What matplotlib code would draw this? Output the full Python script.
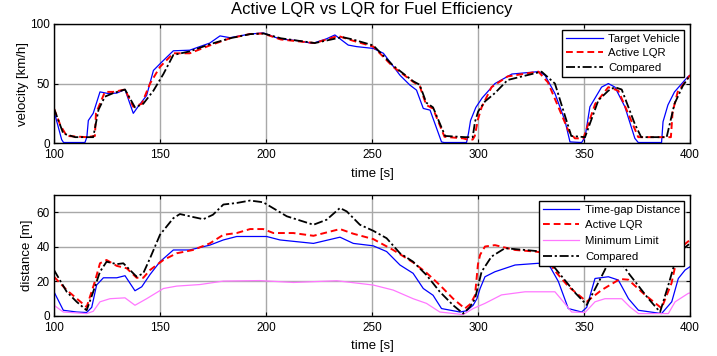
import matplotlib
matplotlib.use("Agg")
import matplotlib.pyplot as plt

plt.rcParams['font.family'] = ['Liberation Sans', 'DejaVu Sans']

# ---------------- velocity data ----------------
t_target = [100, 103.6, 104.5, 114.6, 115.5, 116.2, 118.5, 121.7, 125.6, 129.6, 133.5, 137.4, 139.8,
            143.7, 146.9, 150.8, 156.3, 164, 173.5, 178.3, 183, 192.5, 198.7, 206.6, 215, 222, 228.6,
            232.5, 238.8, 242.8, 250.6, 255.4, 263.2, 267.9, 271, 274.2, 277.4, 282.8, 284, 294.6,
            295.5, 296.5, 299, 302, 308, 316, 328.5, 331.6, 336.3, 341, 343.4, 348.9, 350.5, 352.8,
            358.3, 361.5, 364.6, 369.3, 374, 375.6, 386.6, 387.3, 389.6, 392.7, 399, 400]
v_target = [27, 3, 0.5, 0.5, 5, 19, 25, 43, 41.6, 42, 45, 25, 31,
            40, 61, 68, 77.5, 78, 84, 90, 88.5, 91.6, 92.5, 87.4, 86, 83.7, 87.6,
            90.8, 82.3, 81, 79.5, 75.4, 57, 48.7, 44.5, 29.1, 27.7, 1, 0.5, 0.5,
            8, 19, 30, 38, 50, 58, 60, 57, 41.7, 19, 1, 0.5, 5, 30.5,
            47, 50, 47, 30.5, 4, 0.5, 0.5, 18, 32, 43, 55.7, 57]

t_active = [100, 103, 106, 115.4, 119.3, 119.8, 124, 128, 133.5, 137.4, 141.4, 145.3, 150, 156.3,
            164, 173.5, 183, 192.5, 198.7, 207, 223, 234, 241, 250.6, 260, 269.4, 272.5, 275.6,
            278.8, 284.2, 293, 295, 297.5, 298.5, 300, 301.7, 306.4, 314, 328.5, 333, 342.5, 345.7,
            349.7, 355.3, 361.5, 366.2, 372.5, 375.6, 391, 391.8, 394.2, 400]
v_active = [29, 15, 6, 5, 6, 25, 43, 43, 45, 30.5, 33, 50, 64, 75.4,
            75.4, 82, 88, 91.6, 92, 87, 84, 90, 86, 81, 64, 51.5, 48, 32,
            29, 5.3, 4, 3, 3, 6, 20, 30, 47, 56, 60, 51, 11, 4,
            4, 33, 47, 44, 18, 5, 5, 26, 43, 57]

t_comp = [100, 104.4, 110, 118.5, 121, 124, 128, 133.5, 138.2, 142.1, 146.9, 151.6, 156.3, 164,
          173.5, 183, 192.5, 199, 207, 223, 236, 241, 250.6, 260, 269.4, 272.5, 275.6, 278.8,
          284.5, 294, 297.5, 298.6, 300.1, 303.3, 308, 314, 330, 336.3, 344, 350.5, 356.8, 361.5,
          364.5, 367.8, 374, 377, 389, 392.7, 396.6, 400]
v_comp = [29, 8, 5, 5, 28, 39, 42, 45, 30, 33, 44, 58, 74, 77,
          83, 88, 91.5, 92, 88, 84, 89, 87, 82, 65, 52, 49, 34, 30,
          6, 5, 5, 18, 26.6, 35, 42, 53, 60, 50, 6, 5, 36, 44,
          47, 45, 16, 5, 5, 33, 48, 57]

# ---------------- distance data ----------------
td_gap = [100, 104.4, 110.7, 115.4, 117.8, 120.1, 123.3, 129.6, 133.5, 138.2, 141.4, 145.3, 150,
          156.3, 164, 173.5, 179.9, 186.2, 200.3, 206.6, 222.4, 234.9, 241.2, 250.6, 256.9, 263.2,
          269.4, 274.2, 278.8, 282.8, 291.5, 294.6, 297.7, 299.5, 301, 303.3, 308, 317.5, 328.5,
          334, 337.9, 342.6, 348.9, 351.3, 355.2, 361.5, 366.2, 371, 375.7, 386.6, 391.4, 394.5,
          397.7, 400]
d_gap = [14, 3.3, 2.3, 2, 5, 17.9, 22.1, 22.1, 23.3, 14.6, 16.9, 24, 31.4,
         38.2, 38.2, 41, 44, 46, 46, 44, 42, 45.6, 42, 40.6, 37.3, 29.5,
         24.7, 15.9, 12, 4.3, 2.3, 3, 6.2, 10, 15.9, 22.7, 25.6, 29.5, 30.5,
         28.5, 20, 4.3, 2.3, 5, 21.7, 22.7, 20.8, 10, 3.3, 1.4, 8.2, 21.7,
         26.6, 28.5]

td_active = [100, 106, 115.4, 119.3, 121.7, 124.8, 129.6, 134.3, 139, 142.1, 145.3, 151.6, 157.9,
             165.6, 173.5, 179.9, 186.2, 192.5, 198.7, 203.5, 212.9, 222.4, 234.9, 241.2, 250.6,
             260, 269.4, 275.7, 282, 288.3, 293.8, 296.5, 298.6, 300, 301, 303.3, 308, 317.5, 326.9,
             331.6, 335.8, 342.7, 351.3, 358.3, 367, 370.9, 378.8, 386.6, 391.3, 393.7, 396, 400]
d_active = [22.7, 15, 5.2, 20, 30.5, 32.4, 29, 27.6, 22.1, 22.1, 26.6, 32.4, 36.3,
            38.2, 42, 47, 48, 50.3, 50.3, 48, 48, 46.4, 50.3, 47.6, 44.5,
            38.2, 31, 25, 17.9, 10, 4.3, 7, 12, 30, 35.4, 40.2, 41, 38.2, 37.3,
            36.5, 26.8, 17, 8.3, 15, 21.4, 21, 12.2, 4.5, 19, 32.6, 40, 44]

td_min = [100, 104.4, 115.4, 118.5, 121.7, 126.4, 133.5, 138.2, 143.7, 151.6, 157.9, 168.9, 179.9,
          197, 213, 233.4, 250.6, 260, 269.4, 275.7, 282, 293, 297.7, 303.3, 311.1, 322.2, 336.3,
          340.3, 344.2, 350.5, 355.2, 359.9, 367.8, 371.7, 375.7, 389.8, 393, 399.2, 400]
d_min = [6.2, 2.3, 1.4, 2.7, 8.2, 10, 10.5, 6.2, 10, 15.9, 17.3, 18.2, 20.2,
         20.5, 19.4, 20.4, 17.9, 15, 10, 7.3, 2.3, 0.8, 4.3, 7.3, 12.2, 14, 14,
         8.2, 2.3, 2, 8.2, 10, 10, 5.2, 1.4, 1.4, 8.2, 13.1, 13.3]

td_comp = [100, 106, 110.7, 115.4, 118.5, 121.7, 124.8, 129.6, 132.7, 139, 142.1, 145.3, 150, 156.3,
           159.4, 164, 170.4, 175, 179.9, 186.2, 192.5, 198.7, 209.8, 222.4, 228.6, 234.9, 238.1,
           244.3, 250.6, 256.9, 263.2, 269.4, 275.7, 282, 288.3, 293, 296.2, 298.6, 301.7, 306.4,
           312.7, 322.2, 330, 338.2, 346, 351.3, 358.3, 361.5, 364.5, 367, 371, 380.4, 385.9,
           389.8, 393, 396, 400]
d_comp = [26.6, 14, 8.2, 3.3, 14, 25.6, 31.4, 30, 30.5, 22.7, 24.7, 33.4, 47, 56.6,
          59, 57.7, 56, 58.6, 64.5, 65.4, 66.8, 65.8, 57.7, 52.8, 55.7, 62.5, 60.5,
          52.8, 49.3, 45, 36.3, 31.4, 23.7, 14, 6.2, 1.4, 5.2, 10, 25.6, 34.4,
          39.2, 38.2, 37.3, 24.9, 13.2, 6.4, 22.9, 30.7, 36, 32, 24.8, 10, 2.3,
          17.9, 31.4, 38, 42]

v_ticks = [0, 50, 100]
d_ticks = [0, 20, 40, 60]
t_ticks = [100, 150, 200, 250, 300, 350, 400]

fig = plt.figure(figsize=(7.17, 3.56), dpi=100)
ax1 = fig.add_axes([0.0753, 0.598, 0.887, 0.3346])
ax2 = fig.add_axes([0.0753, 0.1124, 0.887, 0.3398])

grid_kw = dict(color='#a8a8a8', linewidth=1.0, linestyle='-')
leg_kw = dict(loc='upper right', fontsize=8.2, frameon=True, fancybox=False,
              edgecolor='black', framealpha=1, handlelength=3.2, borderaxespad=0.5,
              borderpad=0.35, handletextpad=0.5)

ax1.plot(t_target, v_target, color='#0000ff', lw=0.9, label='Target Vehicle')
ax1.plot(t_active, v_active, color='#ff0000', lw=1.4, ls=(0, (3.5, 2)), label='Active LQR')
ax1.plot(t_comp, v_comp, color='black', lw=1.3, ls=(0, (5, 1.5, 1.2, 1.5)), label='Compared')
ax1.set_xlim(100, 400)
ax1.set_ylim(0, 100)
ax1.set_yticks(v_ticks)
ax1.set_xticks(t_ticks)
ax1.set_xlabel('time [s]', fontsize=9.5, labelpad=5)
ax1.set_ylabel('velocity [km/h]', fontsize=9.5, labelpad=1)
ax1.set_title('Active LQR vs LQR for Fuel Efficiency', fontsize=12, pad=7)
leg1 = ax1.legend(labelspacing=0.4, **leg_kw)
leg1.get_frame().set_linewidth(1.0)

ax2.plot(td_gap, d_gap, color='#0000ff', lw=0.9, label='Time-gap Distance')
ax2.plot(td_active, d_active, color='#ff0000', lw=1.4, ls=(0, (3.5, 2)), label='Active LQR')
ax2.plot(td_min, d_min, color='#ff77ff', lw=0.9, label='Minimum Limit')
ax2.plot(td_comp, d_comp, color='black', lw=1.3, ls=(0, (5, 1.5, 1.2, 1.5)), label='Compared')
ax2.set_xlim(100, 400)
ax2.set_ylim(0, 70)
ax2.set_yticks(d_ticks)
ax2.set_xticks(t_ticks)
ax2.set_xlabel('time [s]', fontsize=9.5, labelpad=4)
ax2.set_ylabel('distance [m]', fontsize=9.5, labelpad=2.5)
leg2 = ax2.legend(labelspacing=0.5, **leg_kw)
leg2.get_frame().set_linewidth(1.0)

for ax in (ax1, ax2):
    ax.grid(True, **grid_kw)
    ax.set_axisbelow(True)
    ax.tick_params(direction='in', top=True, right=True, length=3, width=0.8,
                   labelsize=8.5)
    ax.tick_params(axis='x', pad=4.3)
    ax.tick_params(axis='y', pad=3)
    for sp in ax.spines.values():
        sp.set_linewidth(1.0)
        sp.set_color('black')

fig.savefig('out.png', dpi=100)
